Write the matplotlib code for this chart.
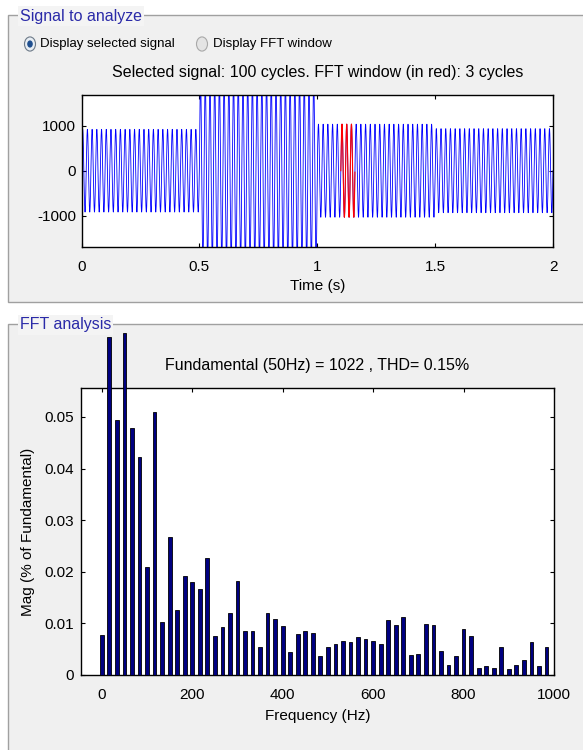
import numpy as np
import matplotlib.pyplot as plt
from matplotlib.patches import Rectangle, Circle

# time signal: 50 Hz, amplitude changes every 0.5 s
f0 = 50
seg_start = [0.0, 0.5, 1.0, 1.5]
seg_end = [0.5, 1.0, 1.5, 2.0]
seg_amp = [920, 2000, 1035, 935]
win_start, win_end = 1.10, 1.16   # FFT window, 3 cycles

# FFT bins (df = 50/3 Hz), magnitude in % of fundamental as displayed
df = 50 / 3
mag = [0.0077, 0.0655, 0.0494, 0.0663, 0.0478, 0.0423, 0.0210, 0.0510,
       0.01035, 0.0267, 0.0126, 0.0191, 0.0180, 0.0166, 0.0227, 0.0076,
       0.0093, 0.0120, 0.0183, 0.0085, 0.0085, 0.0054, 0.0120, 0.0109,
       0.0095, 0.0045, 0.0079, 0.0085, 0.0082, 0.0036, 0.0055, 0.0060,
       0.0066, 0.0063, 0.0074, 0.0069, 0.0066, 0.0060, 0.0106, 0.0096,
       0.0112, 0.0038, 0.0041, 0.0098, 0.0096, 0.0047, 0.0019, 0.0036,
       0.0090, 0.0076, 0.0014, 0.0017, 0.0014, 0.0055, 0.0012, 0.0019,
       0.0030, 0.0063, 0.0017, 0.0055]
freq = np.arange(len(mag)) * df

W, H = 583, 750
plt.rcParams['font.family'] = ['Liberation Sans', 'DejaVu Sans']
plt.rcParams['font.size'] = 11
plt.rcParams['axes.unicode_minus'] = False


def fx(x):
    return x / W


def fy(y):
    return 1 - y / H


fig = plt.figure(figsize=(W / 100, H / 100), dpi=100, facecolor='white')
panel_col = '#f0f0f0'
edge_col = '#a0a0a0'
title_col = '#2a2aa8'

# group boxes
for top, bot, label in [(15, 302, 'Signal to analyze'), (324, 800, 'FFT analysis')]:
    fig.add_artist(Rectangle((fx(8), fy(bot)), fx(620), (bot - top) / H,
                             transform=fig.transFigure, facecolor=panel_col,
                             edgecolor=edge_col, lw=1, zorder=0))
    fig.text(fx(20), fy(top + 1), label, color=title_col, fontsize=11.5,
             va='center', ha='left', zorder=2,
             bbox=dict(facecolor='#f4f4f4', edgecolor='none', pad=1.5))

# radio buttons
rb_y = 44
fig.add_artist(Circle((fx(30), fy(rb_y)), 5.5 / W, transform=fig.transFigure,
                      facecolor='#e8eef4', edgecolor='#6e7a88', lw=0.8, zorder=2))
fig.add_artist(Circle((fx(30), fy(rb_y)), 2.8 / W, transform=fig.transFigure,
                      facecolor='#1f4f8f', edgecolor='none', zorder=3))
fig.add_artist(Circle((fx(202), fy(rb_y)), 5.5 / W, transform=fig.transFigure,
                      facecolor='#e4e4e4', edgecolor='#a8a8a8', lw=0.8, zorder=2))
fig.text(fx(40), fy(rb_y), 'Display selected signal', fontsize=9.5, va='center')
fig.text(fx(213), fy(rb_y), 'Display FFT window', fontsize=9.5, va='center')

# ---- time plot
ax1 = fig.add_axes([fx(81.5), fy(246.7), (553 - 81.5) / W, (246.7 - 94.7) / H])
t = np.arange(0, 2.0 + 1e-9, 1e-4)
amp = np.zeros_like(t)
for a, b, A in zip(seg_start, seg_end, seg_amp):
    amp[(t >= a) & (t <= b)] = A
y = amp * np.sin(2 * np.pi * f0 * t)
ax1.plot(t, y, color='blue', lw=0.6)
sel = (t >= win_start) & (t <= win_end)
ax1.plot(t[sel], y[sel], color='red', lw=0.8)
ax1.set_xlim(0, 2)
ax1.set_ylim(-1690, 1690)
ax1.set_xticks([0, 0.5, 1, 1.5, 2])
ax1.set_xticklabels(['0', '0.5', '1', '1.5', '2'])
ax1.set_yticks([-1000, 0, 1000])
ax1.set_title('Selected signal: 100 cycles. FFT window (in red): 3 cycles',
              fontsize=11.5, pad=13)

# ---- FFT plot
ax2 = fig.add_axes([fx(81), fy(675), (554 - 81) / W, (675 - 388) / H])
ax2.bar(freq, mag, width=8.3, color='#000080', edgecolor='black', lw=0.6,
        clip_on=False, zorder=3)
ax2.set_xlim(-46, 1000)
ax2.set_ylim(0, 0.0556)
ax2.set_xticks(np.arange(0, 1001, 200))
ax2.set_yticks([0, 0.01, 0.02, 0.03, 0.04, 0.05])
ax2.set_yticklabels(['0', '0.01', '0.02', '0.03', '0.04', '0.05'])
ax2.set_title('Fundamental (50Hz) = 1022 , THD= 0.15%', fontsize=11.5, pad=13)

for ax in (ax1, ax2):
    ax.set_facecolor('white')
    ax.tick_params(direction='in', top=True, right=True, length=3, width=0.8,
                   labelsize=11)
    ax.tick_params(axis='x', pad=9.5)
    for s in ax.spines.values():
        s.set_linewidth(1.0)
ax1.tick_params(axis='y', pad=4)
ax2.tick_params(axis='y', pad=5)

ax1.set_xlabel('Time (s)', labelpad=4)
ax2.set_xlabel('Frequency (Hz)', labelpad=5)
ax2.set_ylabel('Mag (% of Fundamental)', labelpad=7)

fig.savefig('out.png', dpi=100, facecolor=fig.get_facecolor())
